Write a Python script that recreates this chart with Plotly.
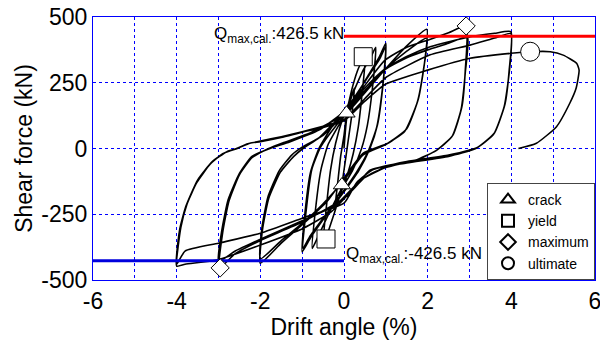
import plotly.graph_objects as go

# Hysteresis path (drift %, shear kN), in loading order
drift = [
    0, 0.06, 0.15, 0.25,
    0.18, 0.1, 0.02, -0.05, -0.13, -0.22,
    -0.15, -0.08, 0.0,
    0.06, 0.18, 0.32, 0.46, 0.52,
    0.44, 0.34, 0.22, 0.08, -0.08, -0.25, -0.42, -0.5,
    -0.42, -0.32, -0.2,
    -0.02, 0.2, 0.45, 0.65, 0.76,
    0.68, 0.56, 0.42, 0.2, -0.1, -0.4, -0.62, -0.76,
    -0.68, -0.55, -0.38,
    -0.1, 0.2, 0.55, 0.85, 1.0,
    0.93, 0.8, 0.62, 0.35, 0.0, -0.45, -0.8, -1.0,
    -0.93, -0.8, -0.6,
    -0.3, 0.1, 0.5, 0.85, 1.0,
    0.92, 0.78, 0.58, 0.3, -0.05, -0.5, -0.82, -0.98,
    -0.9, -0.77, -0.56,
    -0.2, 0.3, 0.98, 1.5, 1.98,
    1.92, 1.78, 1.5, 1.05, 0.46, 0.1, -0.4, -1.0, -1.5, -2.0,
    -1.95, -1.8, -1.52, -1.2, -0.98,
    -0.6, -0.1, 0.5, 0.98, 1.5, 1.98,
    1.9, 1.75, 1.45, 1.0, 0.45, 0.05, -0.5, -1.0, -1.5, -2.0,
    -1.96, -1.82, -1.55, -1.25, -1.0,
    -0.5, 0.0, 0.5, 0.98, 1.5, 2.0, 2.5, 2.92,
    2.9, 2.82, 2.6, 2.22, 1.74, 1.0, 0.5, 0.0, -1.0, -2.0, -2.6, -2.98,
    -2.9, -2.75, -2.5, -2.2, -1.8,
    -1.4, -0.8, 0.0, 0.5, 0.98, 1.5, 2.0, 2.5, 2.95,
    2.9, 2.8, 2.58, 2.2, 1.7, 1.0, 0.4, -0.2, -1.0, -2.0, -2.6, -3.0,
    -2.92, -2.77, -2.5, -2.2, -1.77,
    -1.3, -0.6, 0.0, 0.5, 0.94, 1.5, 2.06, 3.01, 3.6, 3.99,
    3.95, 3.85, 3.6, 3.2, 2.5, 1.5, 0.7, 0.3, 0.0, -1.0, -2.0, -3.0, -3.8, -4.0,
    -3.9, -3.75, -3.52, -3.2, -2.9, -2.57, -2.3, -2.0,
    -1.5, -1.0, -0.5, 0.0, 0.5, 1.0, 2.06, 3.01, 3.6, 3.99,
    3.95, 3.83, 3.58, 3.15, 2.5, 1.5, 0.62, 0.3, -0.3, -0.97, -2.0, -3.04, -3.8, -4.0,
    -3.93, -3.78, -3.5, -3.15, -2.8, -2.55, -2.25, -2.0,
    -1.5, -1.0, -0.5, 0.0, 0.5, 1.0, 2.0, 3.01, 3.99, 4.45, 4.93, 5.24, 5.56, 5.62,
    5.55, 5.4, 5.08, 4.6, 4.17,
]
force = [
    0, 110, 180, 230,
    120, 30, -60, -135, -195, -235,
    -130, -30, 50,
    130, 220, 295, 345, 365,
    220, 80, -20, -100, -170, -255, -335, -362,
    -220, -80, 20,
    120, 205, 295, 350, 385,
    230, 90, 0, -85, -165, -260, -335, -380,
    -230, -80, 15,
    95, 175, 270, 350, 400,
    240, 90, 0, -85, -165, -260, -340, -393,
    -240, -90, 0,
    80, 160, 255, 340, 388,
    230, 80, -10, -90, -170, -265, -335, -380,
    -230, -80, 5,
    85, 175, 300, 390, 453,
    320, 190, 75, 20, -18, -90, -200, -290, -360, -436,
    -310, -190, -90, -30, 0,
    40, 120, 220, 300, 370, 420,
    300, 175, 65, 15, -25, -110, -210, -285, -350, -420,
    -300, -185, -85, -25, 5,
    50, 130, 240, 336, 385, 412, 440, 466,
    300, 160, 50, -6, -44, -70, -110, -190, -280, -350, -400, -454,
    -320, -200, -100, -35, 0,
    25, 60, 130, 220, 300, 345, 375, 400, 425,
    290, 150, 45, -8, -45, -72, -120, -215, -275, -345, -390, -430,
    -310, -195, -95, -30, 0,
    25, 70, 140, 230, 298, 350, 387, 425, 438, 444,
    300, 170, 60, 5, -25, -50, -80, -130, -208, -265, -322, -360, -390, -440,
    -300, -210, -130, -60, -20, 0, 18, 28,
    45, 64, 85, 110, 190, 270, 356, 393, 420, 437,
    290, 160, 55, 0, -30, -55, -82, -140, -240, -303, -367, -424, -440, -447,
    -310, -220, -120, -50, -12, 0, 20, 26,
    42, 62, 80, 105, 180, 245, 298, 343, 362, 368, 368, 355, 324, 298,
    230, 173, 83, 20, 0,
]

crack_x, crack_y = [0.06, -0.05], [134, -139]
yield_x, yield_y = [0.46, -0.43], [349, -344]
max_x, max_y = [2.92, -2.96], [466, -454]
ult_x, ult_y = [4.45], [368]

q_cal = 426.5
x_ticks = [-6, -5, -4, -3, -2, -1, 0, 1, 2, 3, 4, 5, 6]
x_labels = ["-6", "", "-4", "", "-2", "", "0", "", "2", "", "4", "", "6"]
y_ticks = [-500, -250, 0, 250, 500]
y_labels = ["-500", "-250", "0", "250", "500"]

FONT = "Arial, Liberation Sans, sans-serif"
GRID = "#0000ff"

fig = go.Figure()
fig.add_trace(go.Scatter(x=drift, y=force, mode="lines",
                         line=dict(color="black", width=1.6, shape="spline", smoothing=0.5),
                         showlegend=False, hoverinfo="skip"))
fig.add_trace(go.Scatter(x=[0, 6], y=[q_cal, q_cal], mode="lines",
                         line=dict(color="#ff0000", width=3), showlegend=False))
fig.add_trace(go.Scatter(x=[-6, 0], y=[-q_cal, -q_cal], mode="lines",
                         line=dict(color="#0000dd", width=3), showlegend=False))

mk = dict(color="white", line=dict(color="black", width=1))
fig.add_trace(go.Scatter(x=crack_x, y=crack_y, mode="markers", name="crack",
                         marker=dict(symbol="triangle-up", size=15, **mk)))
fig.add_trace(go.Scatter(x=yield_x, y=yield_y, mode="markers", name="yield",
                         marker=dict(symbol="square", size=18, **mk)))
fig.add_trace(go.Scatter(x=max_x, y=max_y, mode="markers", name="maximum",
                         marker=dict(symbol="diamond", size=14, **mk)))
fig.add_trace(go.Scatter(x=ult_x, y=ult_y, mode="markers", name="ultimate",
                         marker=dict(symbol="circle", size=19, **mk)))

fig.add_annotation(x=0, y=q_cal, xref="x", yref="y", xanchor="right", yanchor="middle",
                   text="Q<sub>max,cal.</sub>:426.5 kN", showarrow=False,
                   font=dict(family=FONT, size=17, color="black"), xshift=2, yshift=1)
fig.add_annotation(x=0, y=-q_cal, xref="x", yref="y", xanchor="left", yanchor="middle",
                   text="Q<sub>max,cal.</sub>:-426.5 kN", showarrow=False,
                   font=dict(family=FONT, size=17, color="black"), xshift=0, yshift=6)

axis_common = dict(showgrid=True, gridcolor=GRID, griddash="dot", gridwidth=1,
                   showline=True, linecolor=GRID, linewidth=1, mirror=True,
                   zeroline=False, ticks="", automargin=False, ticklabeloverflow="allow",
                   tickfont=dict(family=FONT, size=23, color="black"))
fig.update_xaxes(range=[-6, 6], tickmode="array", tickvals=x_ticks, ticktext=x_labels,
                 title=dict(text="Drift angle (%)", font=dict(family=FONT, size=23, color="black"), standoff=0),
                 **axis_common)
fig.update_yaxes(range=[-500, 500], tickmode="array", tickvals=y_ticks, ticktext=y_labels,
                 title=dict(text="Shear force (kN)", font=dict(family=FONT, size=23, color="black"), standoff=2),
                 **axis_common)

fig.update_layout(
    width=600, height=340,
    margin=dict(l=93, r=5, t=17, b=60, autoexpand=False),
    plot_bgcolor="white", paper_bgcolor="white",
    legend=dict(x=1, y=0, xanchor="right", yanchor="bottom",
                bgcolor="white", bordercolor="#444", borderwidth=1,
                font=dict(family=FONT, size=14, color="black"),
                tracegroupgap=0, itemwidth=30, itemsizing="constant"),
)

fig.write_html("out.html")
